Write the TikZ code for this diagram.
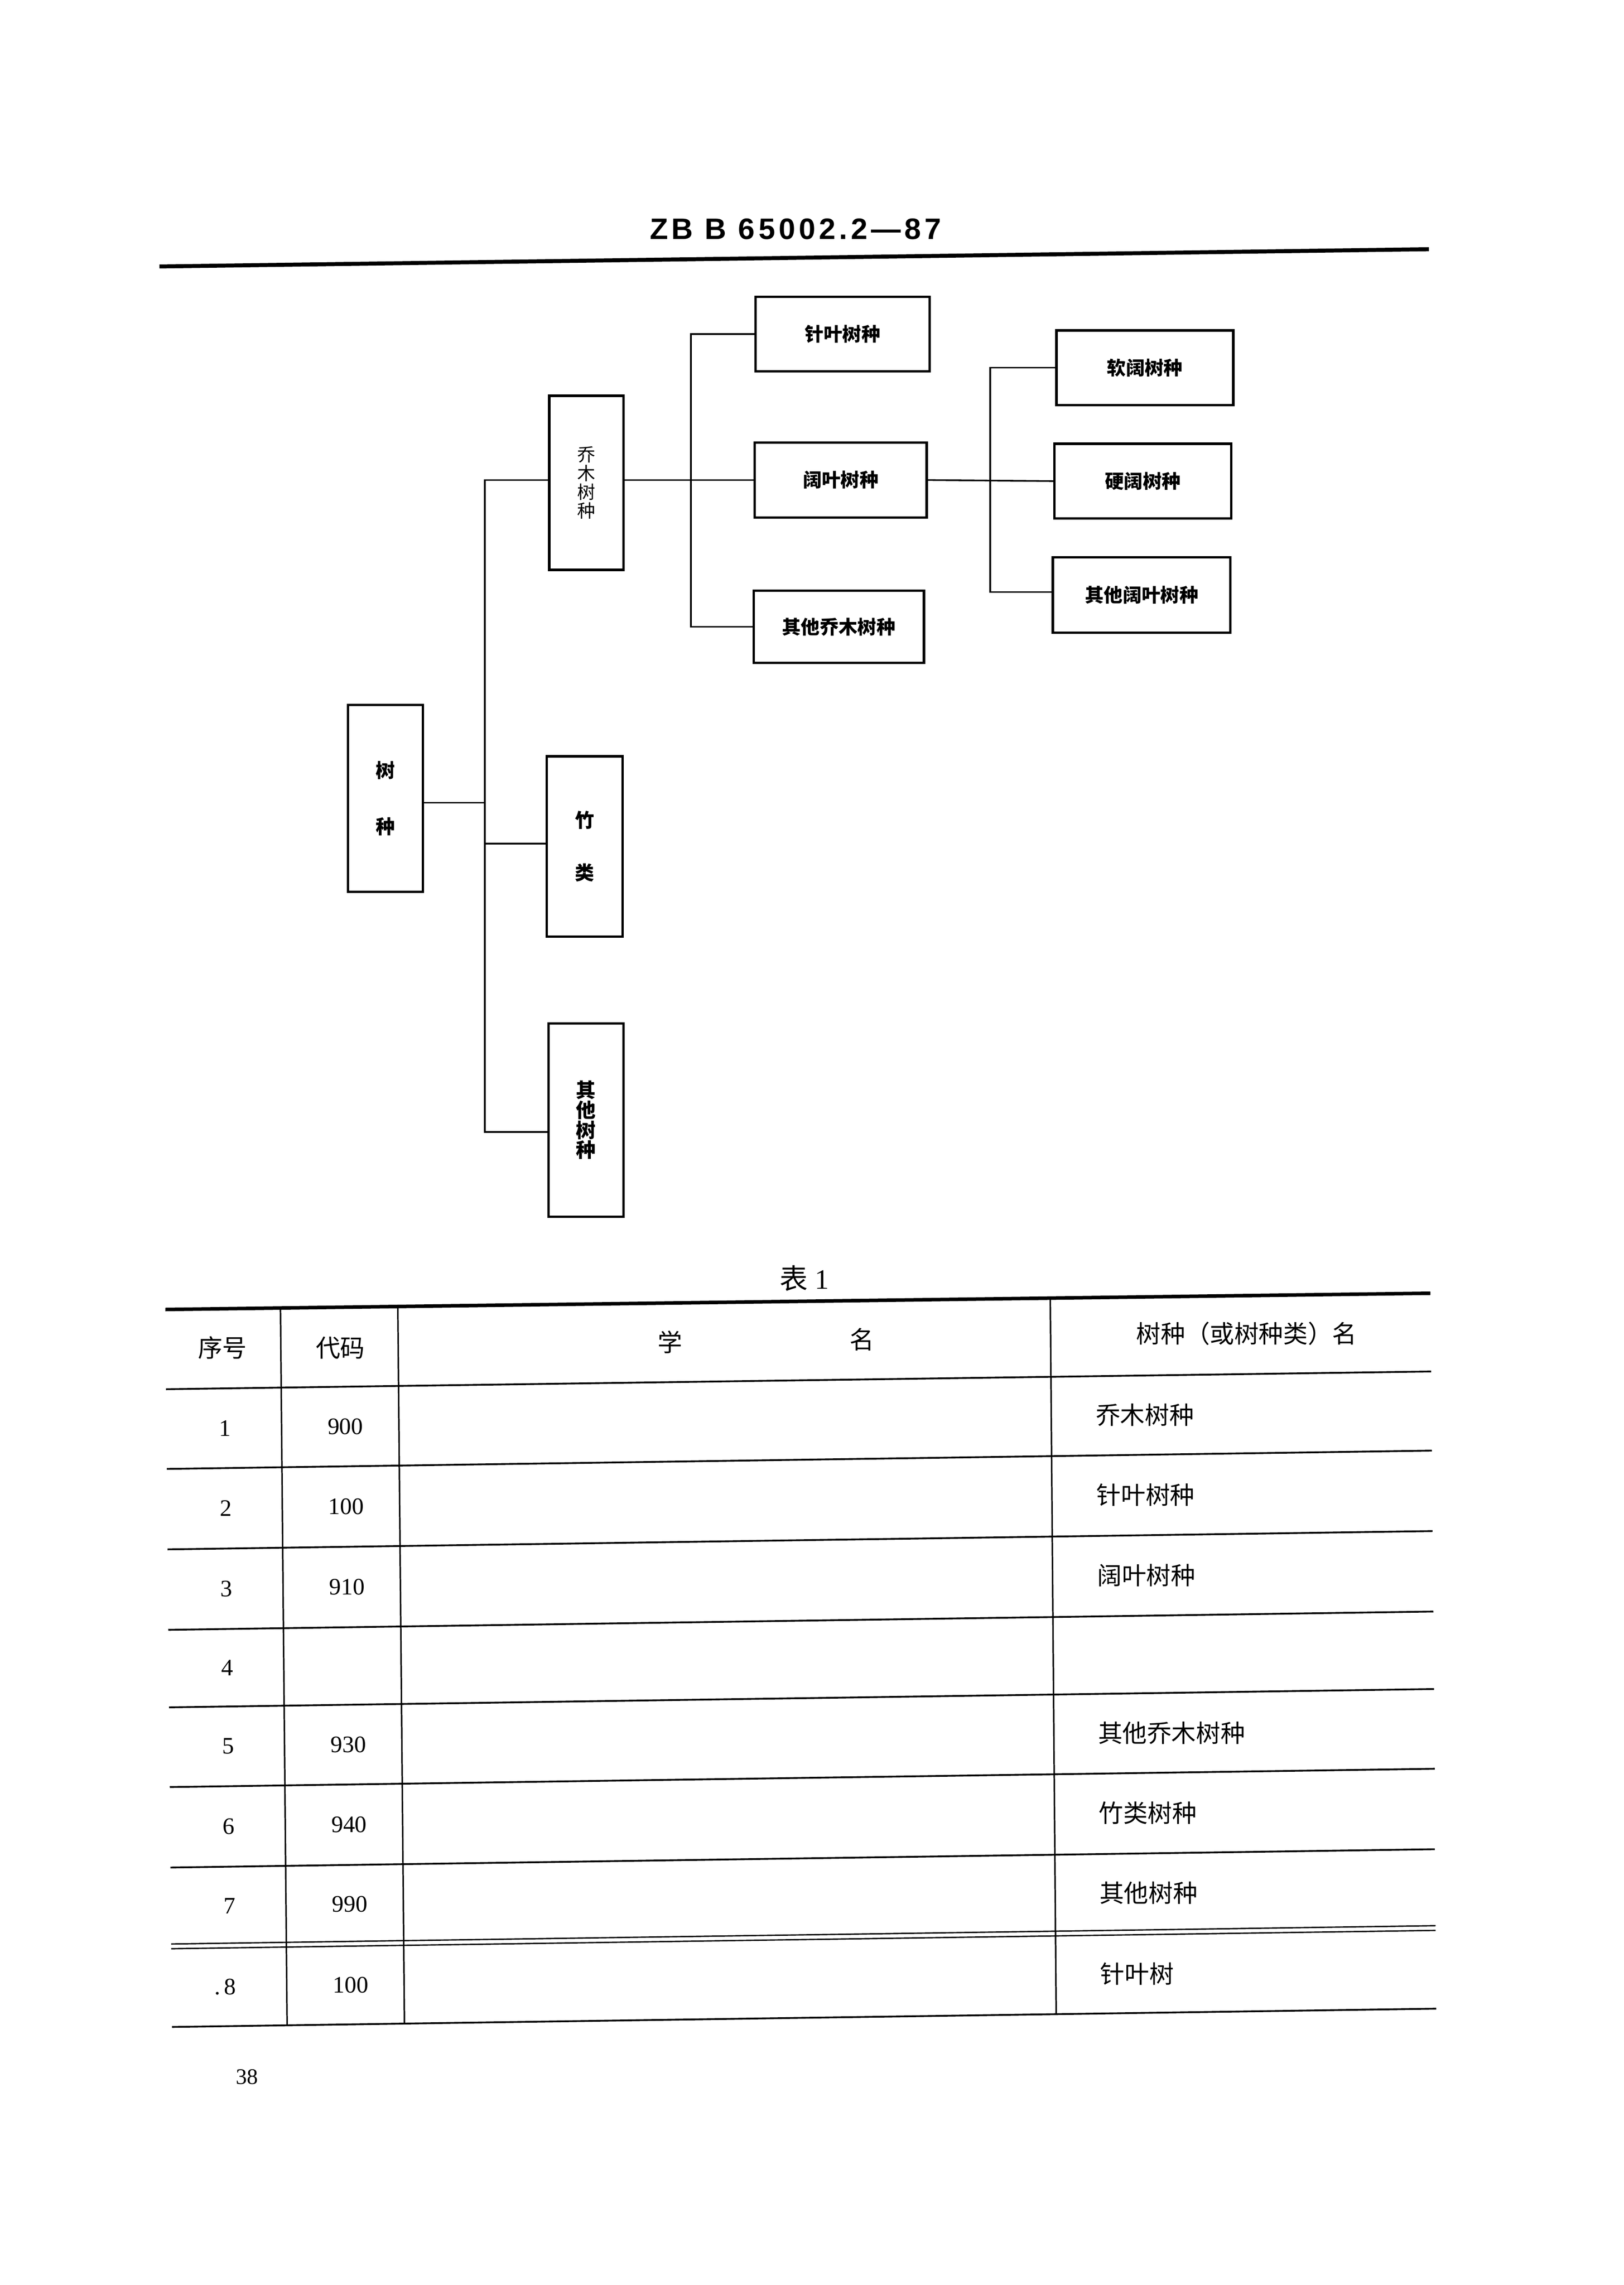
\documentclass[tikz,border=0pt]{standalone}
\usepackage{fontspec}
\setmainfont{Liberation Serif}
\newfontfamily\cjk{Noto Sans CJK SC}
\newfontfamily\hdfont[LetterSpace=12]{Liberation Sans}
\usetikzlibrary{calc}
\begin{document}
\begin{tikzpicture}[x=0.5pt,y=-0.5pt,
  box/.style={draw, line width=0.8pt, inner sep=0pt, align=center},
  hbox/.style={box, font=\cjk\bfseries\fontsize{6.4pt}{7pt}\selectfont},
  conn/.style={line width=0.55pt},
  tline/.style={line width=0.6pt},
  ttext/.style={inner sep=0pt, font=\cjk\fontsize{8.3pt}{10pt}\selectfont},
  tnum/.style={inner sep=0pt, font=\fontsize{8pt}{10pt}\selectfont}]
\fill[white] (0,0) rectangle (1100,1547.8);
\useasboundingbox (0,0) rectangle (1100,1547.8);

% page header
\node[inner sep=0pt] (hdr) at (539,155) {\resizebox{98.75pt}{7pt}{\hdfont\bfseries ZB B 65002.2—87}};
\draw[line width=1.35pt] (108,180.5) -- (968,168.8);

% diagram boxes
\node[hbox, minimum width=58.95pt, minimum height=25.3pt] (zhen) at (570.75,226.3) {针叶树种};
\node[hbox, minimum width=58.3pt, minimum height=25.45pt] (kuo) at (569.5,325.15) {阔叶树种};
\node[hbox, minimum width=57.7pt, minimum height=24.35pt] (qtqm) at (568.2,424.55) {其他乔木树种};
\node[hbox, minimum width=59.9pt, minimum height=25.3pt] (ruan) at (775.6,249.1) {软阔树种};
\node[hbox, minimum width=59.9pt, minimum height=25.3pt] (ying) at (774.3,325.9) {硬阔树种};
\node[hbox, minimum width=60.2pt, minimum height=25.6pt] (qtky) at (773.4,403) {其他阔叶树种};
\node[box, minimum width=25.1pt, minimum height=58.95pt, font=\cjk\fontsize{6.1pt}{6.35pt}\selectfont] (qiaomu) at (397.2,327.05) {乔\\木\\树\\种};
\node[box, minimum width=25.65pt, minimum height=61.1pt, font=\cjk\bfseries\fontsize{6.5pt}{17.8pt}\selectfont] (zhu) at (396.15,573.4) {竹\\类};
\node[box, minimum width=25.45pt, minimum height=65.4pt, font=\cjk\bfseries\fontsize{6.7pt}{6.75pt}\selectfont] (qtsz) at (397.05,758.7) {其\\他\\树\\种};
\node[box, minimum width=25.3pt, minimum height=63.2pt, font=\cjk\bfseries\fontsize{6.5pt}{19pt}\selectfont] (root) at (261.1,540.8) {树\\种};

% connectors
\coordinate (tA) at (328.5,0);
\coordinate (tB) at (468,0);
\coordinate (tC) at (670.8,0);
\coordinate (pQ) at ($(qtsz.west)+(0,8)$);
\coordinate (pR) at ($(root.east)+(0,3)$);
\coordinate (pZ) at ($(zhu.west)+(0,-2)$);
\coordinate (pK) at ($(qtky.west)+(0,-2)$);
\draw[conn] (qiaomu.west |- kuo.west) -| (tA |- pQ) -- (pQ);
\draw[conn] (pR) -- (pR -| tA);
\draw[conn] (pZ) -- (pZ -| tA);
\draw[conn] (qiaomu.east |- kuo.west) -- (kuo.west);
\draw[conn] (zhen.west) -| (tB |- qtqm.west) -- (qtqm.west);
\draw[conn] (kuo.east) -- (ying.west);
\draw[conn] (ruan.west) -| (tC |- pK) -- (pK);

% table caption
\node[inner sep=0pt, font=\fontsize{9.5pt}{11pt}\selectfont] (cap) at (545,866) {{\cjk 表} 1};

% table lines
\draw[line width=1.2pt] (112,887) -- (969,876);
\draw[tline] (112.5,941) -- (969.5,929);
\draw[tline] (113,995) -- (970,982.6);
\draw[tline] (113.5,1049.5) -- (970.5,1037.1);
\draw[tline] (114,1104) -- (971,1091.6);
\draw[tline] (114.5,1156.5) -- (971.5,1144.1);
\draw[tline] (115,1210.5) -- (972,1198.1);
\draw[tline] (115.5,1265) -- (972,1252.6);
\draw[line width=0.45pt] (116,1316.8) -- (972.5,1304.4);
\draw[line width=0.45pt] (116,1320) -- (972.5,1307.6);
\draw[tline] (116.5,1373) -- (973,1360.6);
\draw[line width=0.5pt] (190,885.9) -- (194.5,1371.8);
\draw[line width=0.5pt] (269.5,884.8) -- (274,1370.7);
\draw[line width=0.5pt] (711.5,878.3) -- (715.5,1364.3);

% header row
\node[ttext] (h1) at (150.7,913) {序号};
\node[ttext] (h2) at (230.6,913) {代码};
\node[ttext] (h3) at (454,909) {学};
\node[ttext] (h4) at (584,907.2) {名};
\node[ttext] (h5) at (844.5,903.4) {树种（或树种类）名};

% rows
\node[tnum] (n1) at (152.5,967.4) {1};
\node[tnum] (c1) at (234,966.2) {900};
\node[ttext, anchor=west] (m1) at (742,958.4) {乔木树种};
\node[tnum] (n2) at (153,1021.7) {2};
\node[tnum] (c2) at (234.5,1020.5) {100};
\node[ttext, anchor=west] (m2) at (742.5,1012.6) {针叶树种};
\node[tnum] (n3) at (153.5,1076.2) {3};
\node[tnum] (c3) at (235,1075) {910};
\node[ttext, anchor=west] (m3) at (743,1067.1) {阔叶树种};
\node[tnum] (n4) at (154,1129.7) {4};
\node[tnum] (n5) at (154.5,1182.9) {5};
\node[tnum] (c5) at (236,1181.7) {930};
\node[ttext, anchor=west] (m5) at (743.5,1173.9) {其他乔木树种};
\node[tnum] (n6) at (155,1237.2) {6};
\node[tnum] (c6) at (236.5,1236) {940};
\node[ttext, anchor=west] (m6) at (744,1228.1) {竹类树种};
\node[tnum] (n7) at (155.5,1291.1) {7};
\node[tnum] (c7) at (237,1289.9) {990};
\node[ttext, anchor=west] (m7) at (744.5,1282.1) {其他树种};
\node[tnum] (n8) at (156,1345.9) {\llap{.\,}8};
\node[tnum] (c8) at (237.5,1344.7) {100};
\node[ttext, anchor=west] (m8) at (745,1336.9) {针叶树};

% page number
\node[inner sep=0pt, font=\fontsize{7.5pt}{9pt}\selectfont] (pg) at (167.4,1406.7) {38};
\end{tikzpicture}
\end{document}
